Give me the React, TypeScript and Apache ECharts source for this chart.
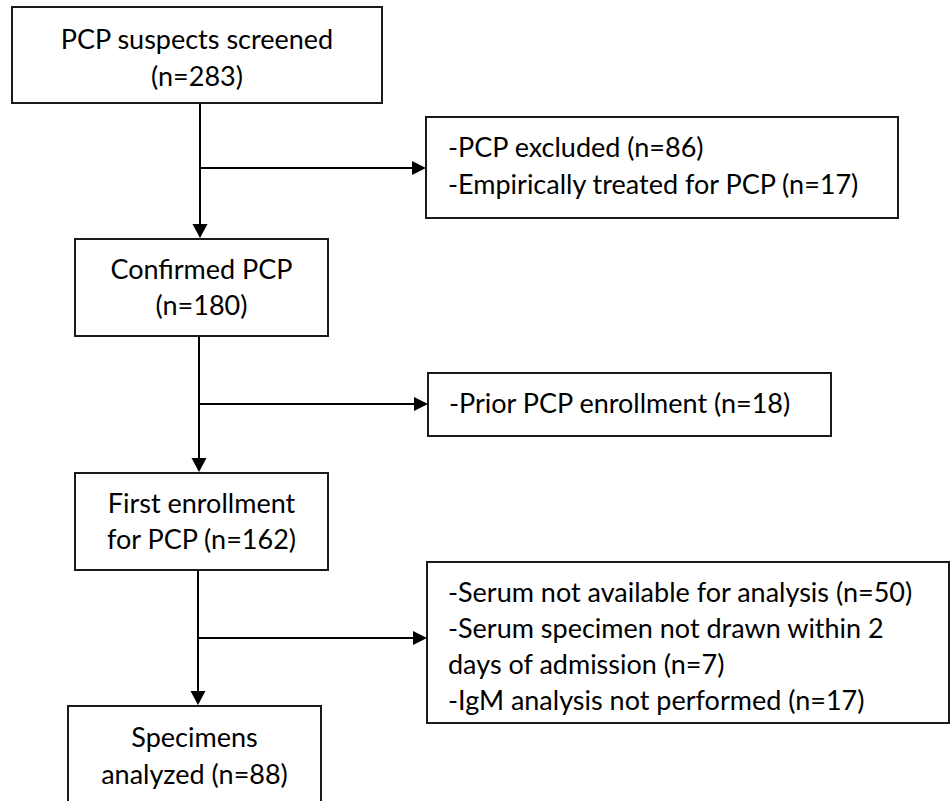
import React, { useEffect, useRef } from "react";
import * as echarts from "echarts";

// Flowchart content
const mainSteps: string[][] = [
  ["PCP suspects screened", "(n=283)"],
  ["Confirmed PCP", "(n=180)"],
  ["First enrollment", "for PCP (n=162)"],
  ["Specimens", "analyzed (n=88)"],
];
const exclusions: string[][] = [
  ["-PCP excluded (n=86)", "-Empirically treated for PCP (n=17)"],
  ["-Prior PCP enrollment (n=18)"],
  [
    "-Serum not available for analysis (n=50)",
    "-Serum specimen not drawn within 2",
    "days of admission (n=7)",
    "-IgM analysis not performed (n=17)",
  ],
];

// Layout (pixels)
const mainBoxes = [
  { x: 12, y: 7, w: 370, h: 96, lines: [38, 75] },
  { x: 75, y: 239, w: 253, h: 97, lines: [268.5, 304.5] },
  { x: 75, y: 473, w: 253, h: 97, lines: [502.5, 538.5] },
  { x: 68, y: 706, w: 253, h: 200, lines: [736.5, 773.5] },
];
const sideBoxes = [
  { x: 426, y: 117, w: 472, h: 101, tx: 448, lines: [146.5, 183.5] },
  { x: 428, y: 373, w: 403, h: 63, tx: 449, lines: [402] },
  { x: 427, y: 562, w: 522, h: 161, tx: 448, lines: [591.5, 627, 663, 699] },
];
const connectors = [
  { x: 200, y1: 103, y2: 238, by: 168 },
  { x: 199, y1: 336, y2: 472, by: 404 },
  { x: 198, y1: 570, y2: 705, by: 638 },
];

const FONT = "27px Lato";

function buildGraphics() {
  const els: any[] = [];
  mainBoxes.forEach((b, i) => {
    els.push({
      type: "rect",
      shape: { x: b.x, y: b.y, width: b.w, height: b.h },
      style: { fill: "#fff", stroke: "#1a1a1a", lineWidth: 2 },
    });
    mainSteps[i].forEach((t, j) => {
      els.push({
        type: "text",
        style: {
          text: t,
          x: b.x + b.w / 2,
          y: b.lines[j],
          font: FONT,
          fill: "#000",
          align: "center",
          verticalAlign: "middle",
          textAlign: "center",
          textVerticalAlign: "middle",
        },
      });
    });
  });
  sideBoxes.forEach((b, i) => {
    els.push({
      type: "rect",
      shape: { x: b.x, y: b.y, width: b.w, height: b.h },
      style: { fill: "#fff", stroke: "#1a1a1a", lineWidth: 2 },
    });
    exclusions[i].forEach((t, j) => {
      els.push({
        type: "text",
        style: {
          text: t,
          x: b.tx,
          y: b.lines[j],
          font: FONT,
          fill: "#000",
          align: "left",
          verticalAlign: "middle",
          textAlign: "left",
          textVerticalAlign: "middle",
        },
      });
    });
  });
  connectors.forEach((c, i) => {
    const side = sideBoxes[i];
    els.push({
      type: "line",
      shape: { x1: c.x, y1: c.y1, x2: c.x, y2: c.y2 - 12 },
      style: { stroke: "#000", lineWidth: 2 },
    });
    els.push({
      type: "polygon",
      shape: { points: [[c.x - 7.5, c.y2 - 14], [c.x + 7.5, c.y2 - 14], [c.x, c.y2]] },
      style: { fill: "#000" },
    });
    const tipX = side.x;
    els.push({
      type: "line",
      shape: { x1: c.x, y1: c.by, x2: tipX - 12, y2: c.by },
      style: { stroke: "#000", lineWidth: 2 },
    });
    els.push({
      type: "polygon",
      shape: { points: [[tipX - 14, c.by - 7], [tipX - 14, c.by + 7], [tipX, c.by]] },
      style: { fill: "#000" },
    });
  });
  return els;
}

export default function App() {
  const ref = useRef<HTMLDivElement>(null);
  useEffect(() => {
    if (!ref.current) return;
    const chart = echarts.init(ref.current, null, { renderer: "svg" });
    chart.setOption({
      animation: false,
      backgroundColor: "#fff",
      graphic: { elements: buildGraphics() },
    });
    return () => chart.dispose();
  }, []);
  return (
    <div
      ref={ref}
      style={{ position: "absolute", left: 0, top: 0, width: 951, height: 801 }}
    />
  );
}
